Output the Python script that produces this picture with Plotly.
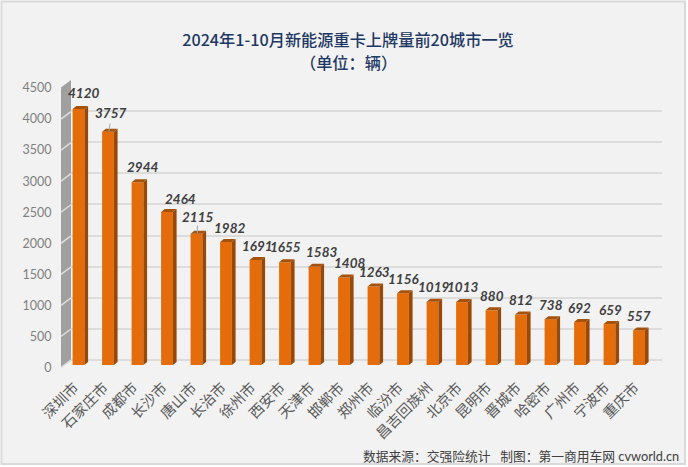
import plotly.graph_objects as go

cities = ["深圳市", "石家庄市", "成都市", "长沙市", "唐山市", "长治市", "徐州市", "西安市", "天津市", "邯郸市",
          "郑州市", "临汾市", "昌吉回族州", "北京市", "昆明市", "晋城市", "哈密市", "广州市", "宁波市", "重庆市"]
values = [4120, 3757, 2944, 2464, 2115, 1982, 1691, 1655, 1583, 1408,
          1263, 1156, 1019, 1013, 880, 812, 738, 692, 659, 557]
y_ticks = [0, 500, 1000, 1500, 2000, 2500, 3000, 3500, 4000, 4500]

# where each data label sits, relative to the top of its bar (px)
label_dx = [4.5, 2, 4.5, 13, 0.5, 3, 1.5, 0, 6.5, 5, 0.5, 0, 0.5, 0, 0, 0, 0, -1, 0.5, 0]
label_dy = [16, 18.7, 15, 13, 16.7, 14, 14, 15, 14.7, 14.6, 14.6, 14, 14.7, 15, 14.4, 14.6, 14, 14, 14, 14.4]
leaders = [1, 4]

TITLE = "2024年1-10月新能源重卡上牌量前20城市一览"
SUBTITLE = "（单位：辆）"
FOOTER = "数据来源：交强险统计   制图：第一商用车网 cvworld.cn"

ORANGE = "#e46c0a"
SIDE = "#984807"
TOP = "#a4520c"
GRID = "#dcdcdc"
WALL = "#a0a0a0"
BG = "#f2f2f2"
FONT = "Lato, 'Noto Sans CJK SC', sans-serif"
TITLE_FONT = dict(family="'Noto Sans CJK SC', sans-serif", size=16.2, color="#1f3864", weight=500)

W, H = 688, 467
L, R, T, B = 61, 662, 70, 370  # plot box in px
STEP = 29.5
X0 = 78.5
UNIT = 0.0621  # px per unit
x_range = [(L - X0) / STEP, (R - X0) / STEP]
BAR_W = 0.4
DX = 3.7 / STEP
DY = 3 / UNIT


def px(x):
    return (x - L) / (R - L)


def py(y):
    return (B - y) / (B - T)


def y_domain(zero_px, top_px):
    return [py(zero_px), py(top_px)]


fig = go.Figure()

# back wall, on the plain y axis
back_x = x_range[0] + 10 / STEP
fig.add_trace(go.Scatter(
    x=[x_range[0], back_x, back_x, x_range[0], x_range[0]],
    y=[-120, 0, 4500, 4380, -120],
    fill="toself", fillcolor=WALL, mode="none", hoverinfo="skip",
    cliponaxis=False, xaxis="x", yaxis="y",
))

# bars
sx, sy, tx, ty = [], [], [], []
for i, v in enumerate(values):
    r = i + BAR_W / 2
    l = i - BAR_W / 2
    sx += [r, r + DX, r + DX, r, r, None]
    sy += [0, DY, v + DY, v, 0, None]
    tx += [l, l + DX, r + DX, r, l, None]
    ty += [v, v + DY, v + DY, v, v, None]
fig.add_trace(go.Scatter(x=sx, y=sy, fill="toself", fillcolor=SIDE, mode="none",
                         hoverinfo="skip", cliponaxis=False, xaxis="x", yaxis="y2"))
fig.add_trace(go.Scatter(x=tx, y=ty, fill="toself", fillcolor=TOP, mode="none",
                         hoverinfo="skip", cliponaxis=False, xaxis="x", yaxis="y2"))
fig.add_trace(go.Bar(x=list(range(len(values))), y=values, width=BAR_W, marker_color=ORANGE,
                     marker_line_width=0, hoverinfo="skip", cliponaxis=False, xaxis="x", yaxis="y2"))

# leader lines for the two labels that got moved
for i in leaders:
    fig.add_trace(go.Scatter(x=[i + 0.03, i + 0.07 if i == 1 else i + 0.03],
                             y=[values[i] + 10, values[i] + 130], mode="lines",
                             line=dict(color="#a6a6a6", width=1), hoverinfo="skip",
                             cliponaxis=False, xaxis="x", yaxis="y2"))

# tick stubs across the wall, front plane axis
stub_x, stub_y = [], []
for t in y_ticks:
    stub_x += [x_range[0], back_x, None]
    stub_y += [t, t + 120, None]
fig.add_trace(go.Scatter(x=stub_x, y=stub_y, mode="lines", line=dict(color=GRID, width=1.5),
                         hoverinfo="skip", cliponaxis=False, xaxis="x", yaxis="y3"))

annotations = []
for i, v in enumerate(values):
    annotations.append(dict(
        x=i, y=v, xref="x", yref="y2", text=str(v), showarrow=False,
        xshift=label_dx[i], yshift=label_dy[i], xanchor="center", yanchor="middle",
        font=dict(family=FONT, size=13.5, color="#404040", weight="bold", style="italic"),
    ))
annotations.append(dict(
    x=px(681), y=py(456), xref="paper", yref="paper", text=FOOTER, showarrow=False,
    xanchor="right", yanchor="middle", font=dict(family=FONT, size=12.75, color="#404040"),
))
annotations.append(dict(
    x=px(348), y=py(62), xref="paper", yref="paper", text=SUBTITLE, showarrow=False,
    xanchor="center", yanchor="middle", font=TITLE_FONT,
))

fig.update_layout(
    width=W, height=H,
    margin=dict(l=L, r=W - R, t=T, b=H - B, pad=0),
    paper_bgcolor="white", plot_bgcolor="rgba(0,0,0,0)",
    showlegend=False, barmode="overlay",
    hovermode=False,
    title=dict(text=TITLE, x=348 / W, xanchor="center", y=1 - 40 / H, yanchor="middle", font=TITLE_FONT),
    xaxis=dict(range=x_range, domain=[0, 1], anchor="y3", tickmode="array",
               tickvals=list(range(len(cities))), ticktext=cities, tickangle=-45,
               ticks="outside", ticklen=5, tickcolor="rgba(0,0,0,0)", showgrid=False,
               showline=False, zeroline=False, ticklabelshift=-4,
               tickfont=dict(family=FONT, size=14.5, color="#595959")),
    yaxis=dict(range=[-120, 4500], domain=y_domain(367.5, 80), anchor="x", tickmode="array",
               tickvals=y_ticks, showgrid=True, gridcolor=GRID, gridwidth=2,
               showticklabels=False, ticks="", showline=False, zeroline=False),
    yaxis2=dict(range=[0, 4500], domain=y_domain(365, 85.5), anchor="x", showgrid=False,
                showticklabels=False, ticks="", showline=False, zeroline=False),
    yaxis3=dict(range=[0, 4500], domain=y_domain(367.5, 88), anchor="x", tickmode="array",
                tickvals=y_ticks, showgrid=False, ticks="outside", ticklen=6,
                tickcolor="rgba(0,0,0,0)", showline=False, zeroline=False,
                tickfont=dict(family=FONT, size=12.5, color="#7f7f7f")),
    annotations=annotations,
    shapes=[dict(type="rect", xref="paper", yref="paper", layer="below",
                 x0=px(1.5), x1=px(685), y0=py(1.5), y1=py(464),
                 fillcolor=BG, line=dict(color="#d9d9d9", width=2))],
)

fig.write_html("out.html", config={"displayModeBar": False},
               post_script="document.body.style.margin='0';")
